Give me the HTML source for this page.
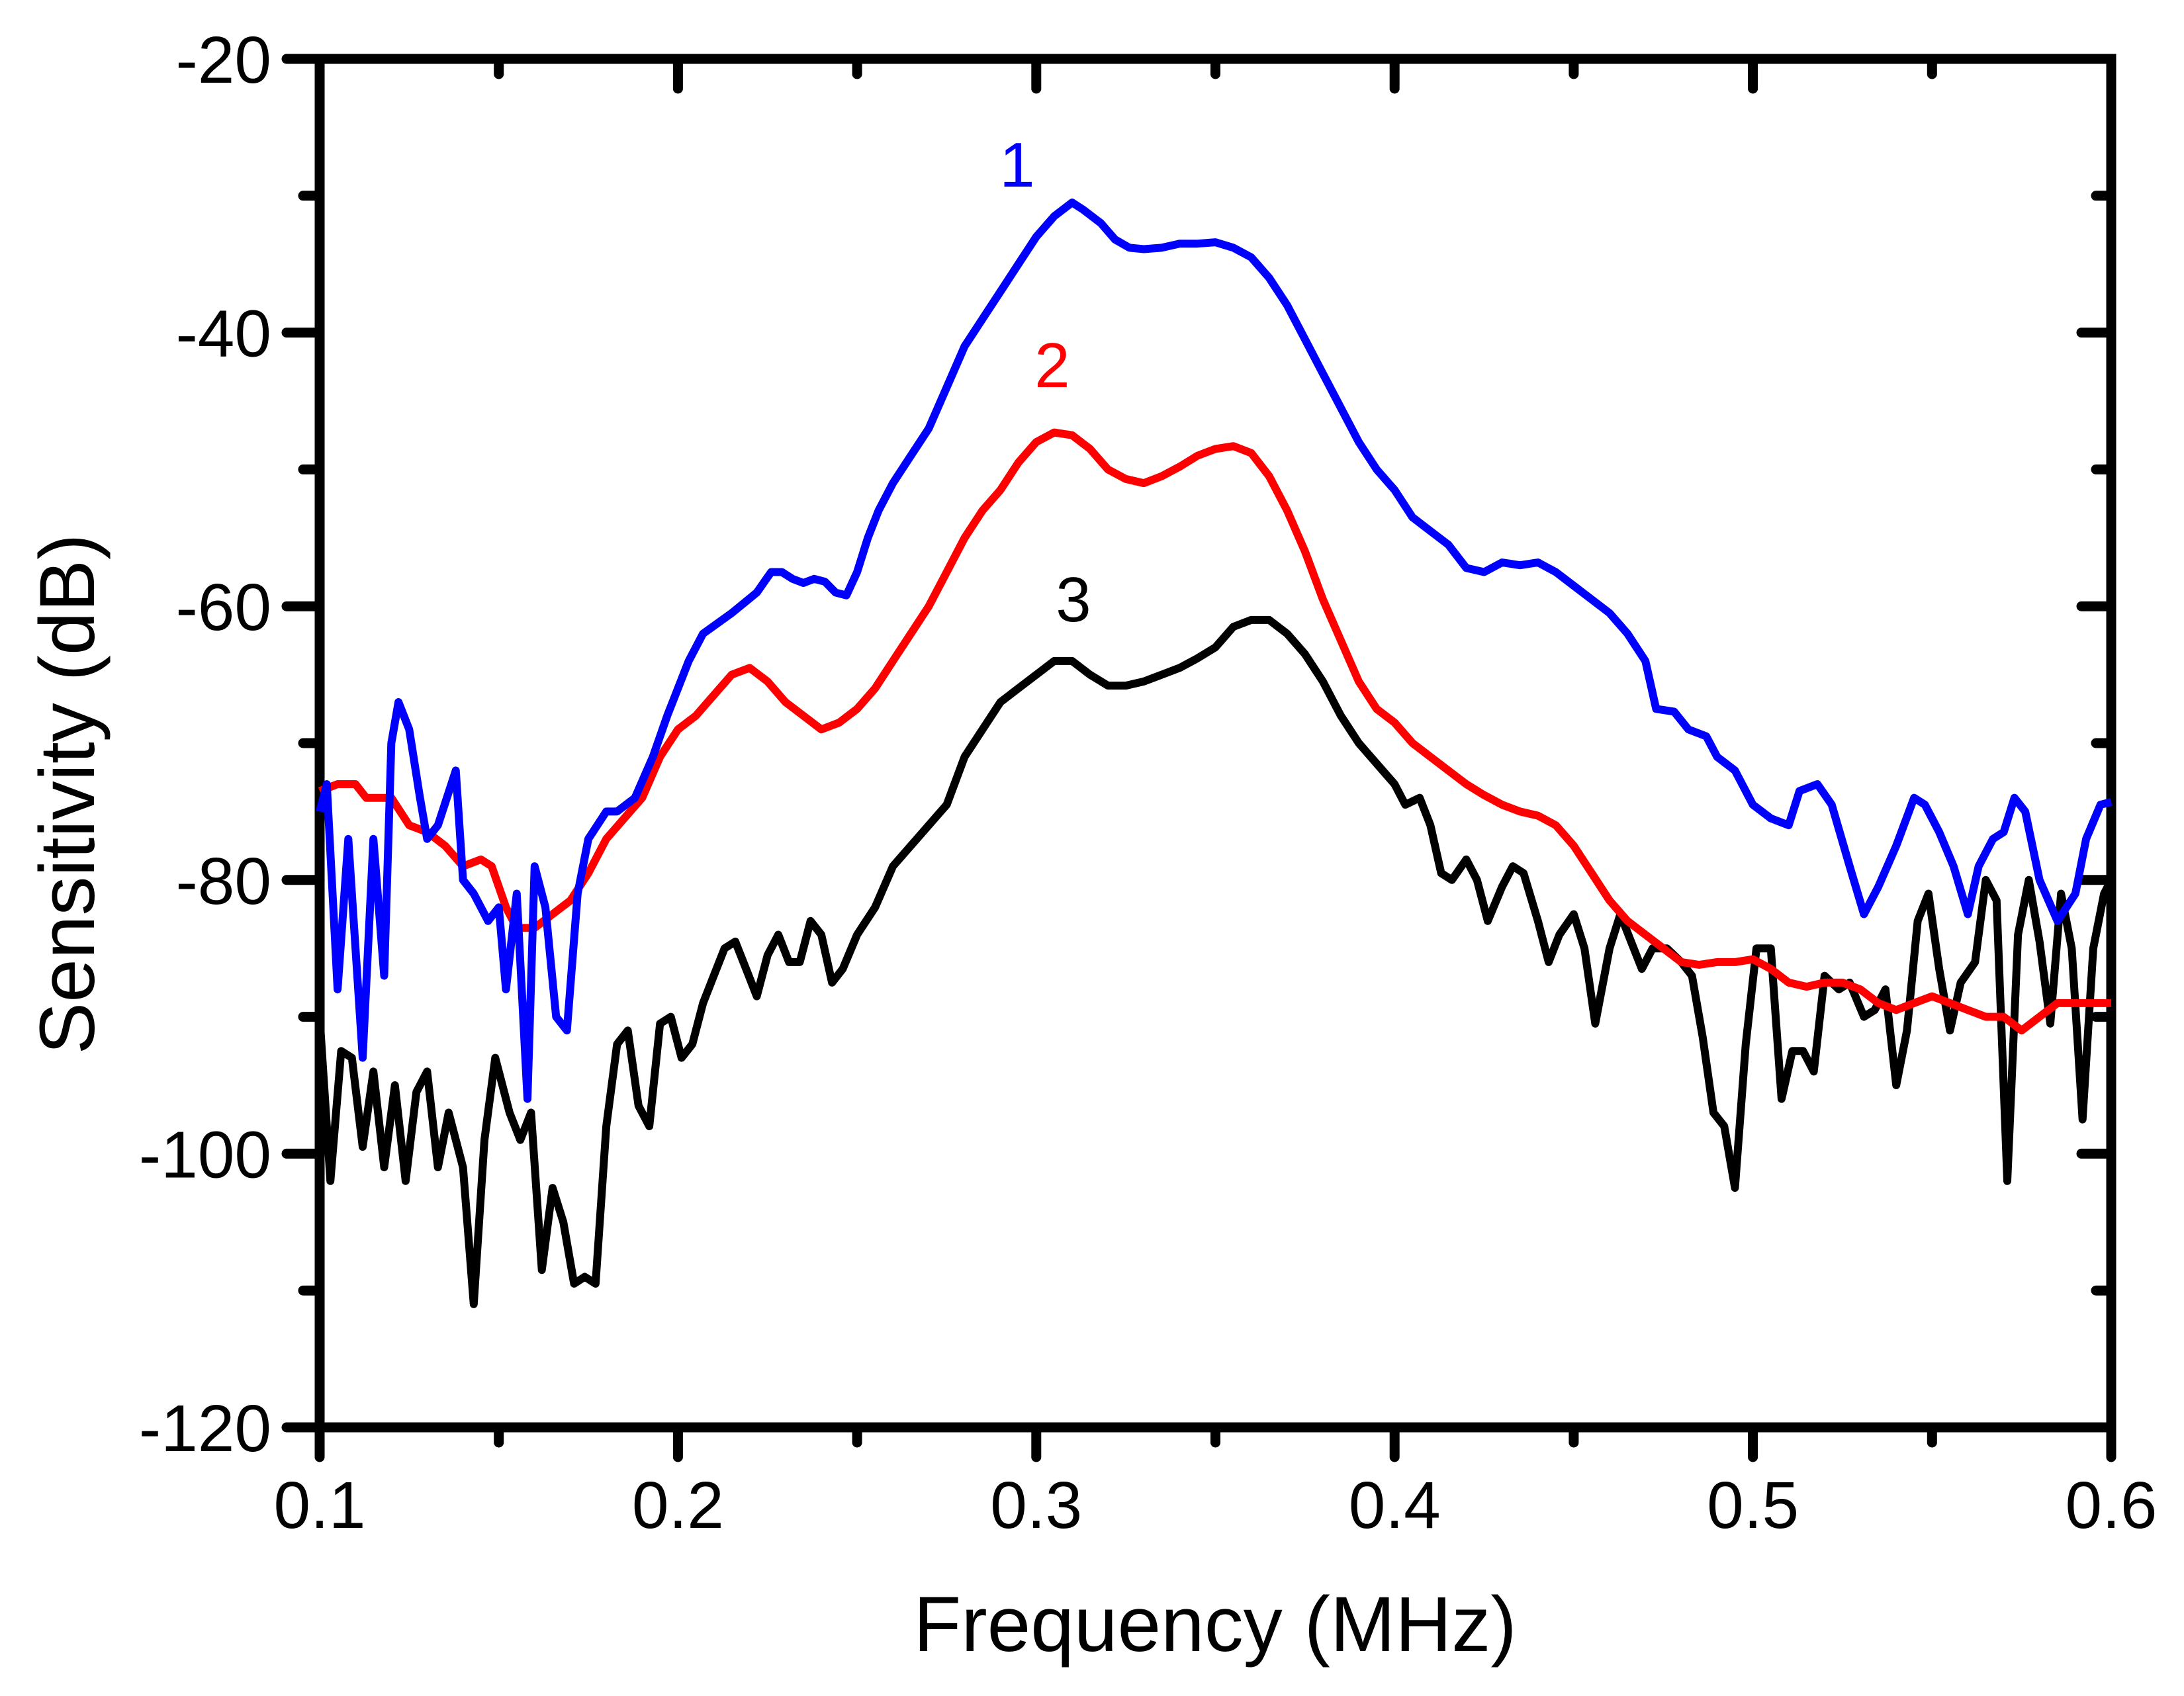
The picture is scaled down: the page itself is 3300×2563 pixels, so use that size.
<!DOCTYPE html>
<html><head><meta charset="utf-8"><style>
html,body{margin:0;padding:0;background:#fff}
svg{display:block}
text{font-family:"Liberation Sans",Arial,sans-serif}
</style></head><body>
<svg id="chart" width="3300" height="2563" viewBox="0 0 3300 2563" xmlns="http://www.w3.org/2000/svg">
<g id="axes"></g>
<g id="series"></g>
<text x="1836" y="2495" font-size="118" text-anchor="middle">Frequency (MHz)</text>
<text x="0" y="0" font-size="118" text-anchor="middle" transform="translate(142,1200) rotate(-90)">Sensitivity (dB)</text>
</svg>
<script>
const xTicks = [0.1,0.2,0.3,0.4,0.5,0.6];
const xTickLabels = ["0.1","0.2","0.3","0.4","0.5","0.6"];
const yTicks = [-20,-40,-60,-80,-100,-120];
const yTickLabels = ["-20","-40","-60","-80","-100","-120"];
const blueX = [0.1,0.102,0.105,0.108,0.112,0.115,0.118,0.12,0.122,0.125,0.128,0.13,0.133,0.138,0.14,0.143,0.147,0.15,0.152,0.155,0.158,0.16,0.163,0.166,0.169,0.172,0.175,0.18,0.183,0.188,0.193,0.197,0.203,0.207,0.215,0.222,0.226,0.229,0.232,0.235,0.238,0.241,0.244,0.247,0.25,0.253,0.256,0.26,0.265,0.27,0.275,0.28,0.285,0.29,0.295,0.3,0.305,0.31,0.313,0.318,0.322,0.326,0.33,0.335,0.34,0.345,0.35,0.355,0.36,0.365,0.37,0.375,0.38,0.385,0.39,0.395,0.4,0.405,0.41,0.415,0.42,0.425,0.43,0.435,0.44,0.445,0.45,0.455,0.46,0.465,0.47,0.473,0.478,0.482,0.487,0.49,0.495,0.5,0.505,0.51,0.513,0.518,0.522,0.527,0.531,0.535,0.54,0.545,0.548,0.552,0.556,0.56,0.563,0.567,0.57,0.573,0.576,0.58,0.585,0.59,0.593,0.597,0.6];
const blueY = [-75,-73,-88,-77,-93,-77,-87,-70,-67,-69,-74,-77,-76,-72,-80,-81,-83,-82,-88,-81,-96,-79,-82,-90,-91,-81,-77,-75,-75,-74,-71,-68,-64,-62,-60.5,-59,-57.5,-57.5,-58,-58.3,-58,-58.2,-59,-59.2,-57.5,-55,-53,-51,-49,-47,-44,-41,-39,-37,-35,-33,-31.5,-30.5,-31,-32,-33.2,-33.8,-33.9,-33.8,-33.5,-33.5,-33.4,-33.8,-34.5,-36,-38,-40.5,-43,-45.5,-48,-50,-51.5,-53.5,-54.5,-55.5,-57.2,-57.5,-56.8,-57,-56.8,-57.5,-58.5,-59.5,-60.5,-62,-64,-67.5,-67.7,-69,-69.5,-71,-72,-74.5,-75.5,-76,-73.5,-73,-74.5,-79,-82.5,-80.5,-77.5,-74,-74.5,-76.5,-79,-82.5,-79,-77,-76.5,-74,-75,-80,-83,-81,-77,-74.5,-74.3];
const redX = [0.1,0.105,0.11,0.113,0.12,0.125,0.13,0.135,0.14,0.145,0.148,0.152,0.155,0.16,0.165,0.17,0.175,0.18,0.185,0.19,0.195,0.2,0.205,0.21,0.215,0.22,0.225,0.23,0.235,0.24,0.245,0.25,0.255,0.26,0.265,0.27,0.275,0.28,0.285,0.29,0.295,0.3,0.305,0.31,0.315,0.32,0.325,0.33,0.335,0.34,0.345,0.35,0.355,0.36,0.365,0.37,0.375,0.38,0.385,0.39,0.395,0.4,0.405,0.41,0.415,0.42,0.425,0.43,0.435,0.44,0.445,0.45,0.455,0.46,0.465,0.47,0.475,0.48,0.485,0.49,0.495,0.5,0.505,0.51,0.515,0.52,0.525,0.53,0.535,0.54,0.545,0.55,0.555,0.56,0.565,0.57,0.575,0.58,0.585,0.59,0.595,0.6];
const redY = [-73.5,-73,-73,-74,-74,-76,-76.5,-77.5,-79,-78.5,-79,-82,-83.5,-83.5,-82.5,-81.5,-79.5,-77,-75.5,-74,-71,-69,-68,-66.5,-65,-64.5,-65.5,-67,-68,-69,-68.5,-67.5,-66,-64,-62,-60,-57.5,-55,-53,-51.5,-49.5,-48,-47.3,-47.5,-48.5,-50,-50.7,-51,-50.5,-49.8,-49,-48.5,-48.3,-48.8,-50.5,-53,-56,-59.5,-62.5,-65.5,-67.5,-68.5,-70,-71,-72,-73,-73.8,-74.5,-75,-75.3,-76,-77.5,-79.5,-81.5,-83,-84,-85,-86,-86.2,-86,-86,-85.8,-86.5,-87.5,-87.8,-87.5,-87.5,-88,-89,-89.5,-89,-88.5,-89,-89.5,-90,-90,-91,-90,-89,-89,-89,-89];
const blackX = [0.1,0.103,0.106,0.109,0.112,0.115,0.118,0.121,0.124,0.127,0.13,0.133,0.136,0.14,0.143,0.146,0.149,0.153,0.156,0.159,0.162,0.165,0.168,0.171,0.174,0.177,0.18,0.183,0.186,0.189,0.192,0.195,0.198,0.201,0.204,0.207,0.21,0.213,0.216,0.219,0.222,0.225,0.228,0.231,0.234,0.237,0.24,0.243,0.246,0.25,0.255,0.26,0.265,0.27,0.275,0.28,0.285,0.29,0.295,0.3,0.305,0.31,0.315,0.32,0.325,0.33,0.335,0.34,0.345,0.35,0.355,0.36,0.365,0.37,0.375,0.38,0.385,0.39,0.395,0.4,0.403,0.407,0.41,0.413,0.416,0.42,0.423,0.426,0.43,0.433,0.436,0.44,0.443,0.446,0.45,0.453,0.456,0.46,0.463,0.466,0.469,0.472,0.476,0.48,0.483,0.486,0.489,0.492,0.495,0.498,0.501,0.505,0.508,0.511,0.514,0.517,0.52,0.524,0.527,0.531,0.534,0.537,0.54,0.543,0.546,0.549,0.552,0.555,0.558,0.562,0.565,0.568,0.571,0.574,0.577,0.58,0.583,0.586,0.589,0.592,0.595,0.598,0.6];
const blackY = [-90,-102,-92.5,-93,-99.5,-94,-101,-95,-102,-95.5,-94,-101,-97,-101,-111,-99,-93,-97,-99,-97,-108.5,-102.5,-105,-109.5,-109,-109.5,-98,-92,-91,-96.5,-98,-90.5,-90,-93,-92,-89,-87,-85,-84.5,-86.5,-88.5,-85.5,-84,-86,-86,-83,-84,-87.5,-86.5,-84,-82,-79,-77.5,-76,-74.5,-71,-69,-67,-66,-65,-64,-64,-65,-65.8,-65.8,-65.5,-65,-64.5,-63.8,-63,-61.5,-61,-61,-62,-63.5,-65.5,-68,-70,-71.5,-73,-74.5,-74,-76,-79.5,-80,-78.5,-80,-83,-80.5,-79,-79.5,-83,-86,-84,-82.5,-85,-90.5,-85,-82.5,-84.5,-86.5,-85,-85,-86,-87,-91.5,-97,-98,-102.5,-92,-85,-85,-96,-92.5,-92.5,-94,-87,-88,-87.5,-90,-89.5,-88,-95,-91,-83,-81,-86.5,-91,-87.5,-86,-80,-81.5,-102,-84,-80,-84.5,-90.5,-81,-85,-97.5,-85,-81,-80];

const L=483,R=3190,T=89,B=2157;
const xMin=0.1,xMax=0.6,yMin=-120,yMax=-20;
function sx(v){return L+(v-xMin)/(xMax-xMin)*(R-L);}
function sy(v){return T+(yMax-v)/(yMax-yMin)*(B-T);}
const NS="http://www.w3.org/2000/svg";
const axes=document.getElementById('axes');
const series=document.getElementById('series');
function mk(tag,attrs,parent){const e=document.createElementNS(NS,tag);for(const k in attrs)e.setAttribute(k,attrs[k]);parent.appendChild(e);return e;}

const frame=mk('rect',{x:L,y:T,width:R-L,height:B-T,fill:'none',stroke:'#000','stroke-width':15},axes);



for(let i=0;i<xTicks.length;i++){
  const x=sx(xTicks[i]);
  const t=mk('line',{x1:x,y1:B,x2:x,y2:B+45,stroke:'#000','stroke-width':15,'stroke-linecap':'round'},axes);
  
  
  const t2=mk('line',{x1:x,y1:T,x2:x,y2:T+45,stroke:'#000','stroke-width':15,'stroke-linecap':'round'},axes);
  
  
  const lb=mk('text',{x:x,y:B+152,'font-size':100,'text-anchor':'middle'},axes);
  lb.textContent=xTickLabels[i];
  
  
  if(i<xTicks.length-1){
    const xm=sx((xTicks[i]+xTicks[i+1])/2);
    const m=mk('line',{x1:xm,y1:B,x2:xm,y2:B+23,stroke:'#000','stroke-width':15,'stroke-linecap':'round'},axes);
    
    
    const m2=mk('line',{x1:xm,y1:T,x2:xm,y2:T+23,stroke:'#000','stroke-width':15,'stroke-linecap':'round'},axes);
    
    
  }
}
for(let i=0;i<yTicks.length;i++){
  const y=sy(yTicks[i]);
  const t=mk('line',{x1:L-50,y1:y,x2:L,y2:y,stroke:'#000','stroke-width':15,'stroke-linecap':'round'},axes);
  
  
  const t2=mk('line',{x1:R-45,y1:y,x2:R,y2:y,stroke:'#000','stroke-width':15,'stroke-linecap':'round'},axes);
  
  
  const lb=mk('text',{x:410,y:y+36,'font-size':100,'text-anchor':'end'},axes);
  lb.textContent=yTickLabels[i];
  
  
  if(i<yTicks.length-1){
    const ym=sy((yTicks[i]+yTicks[i+1])/2);
    const m=mk('line',{x1:L-25,y1:ym,x2:L,y2:ym,stroke:'#000','stroke-width':15,'stroke-linecap':'round'},axes);
    
    
    const m2=mk('line',{x1:R-23,y1:ym,x2:R,y2:ym,stroke:'#000','stroke-width':15,'stroke-linecap':'round'},axes);
    
    
  }
}
function line(xs,ys,color,name){
  let d='';
  for(let i=0;i<xs.length;i++){d+=(i?'L':'M')+sx(xs[i]).toFixed(1)+','+sy(ys[i]).toFixed(1);}
  const p=mk('path',{d:d,fill:'none',stroke:color,'stroke-width':12,'stroke-linejoin':'round'},series);
  
  
}
line(blackX,blackY,'#000000','series-3-line');
line(redX,redY,'#ff0000','series-2-line');
line(blueX,blueY,'#0000ff','series-1-line');
const labels=[["1",1537,282,'#0000ff','series-1-label'],["2",1590,585,'#ff0000','series-2-label'],["3",1622,939,'#000000','series-3-label']];
for(const l of labels){
  const t=mk('text',{x:l[1],y:l[2],'font-size':96,'text-anchor':'middle',fill:l[3]},series);
  t.textContent=l[0];
  
  
}
</script>
</body></html>
